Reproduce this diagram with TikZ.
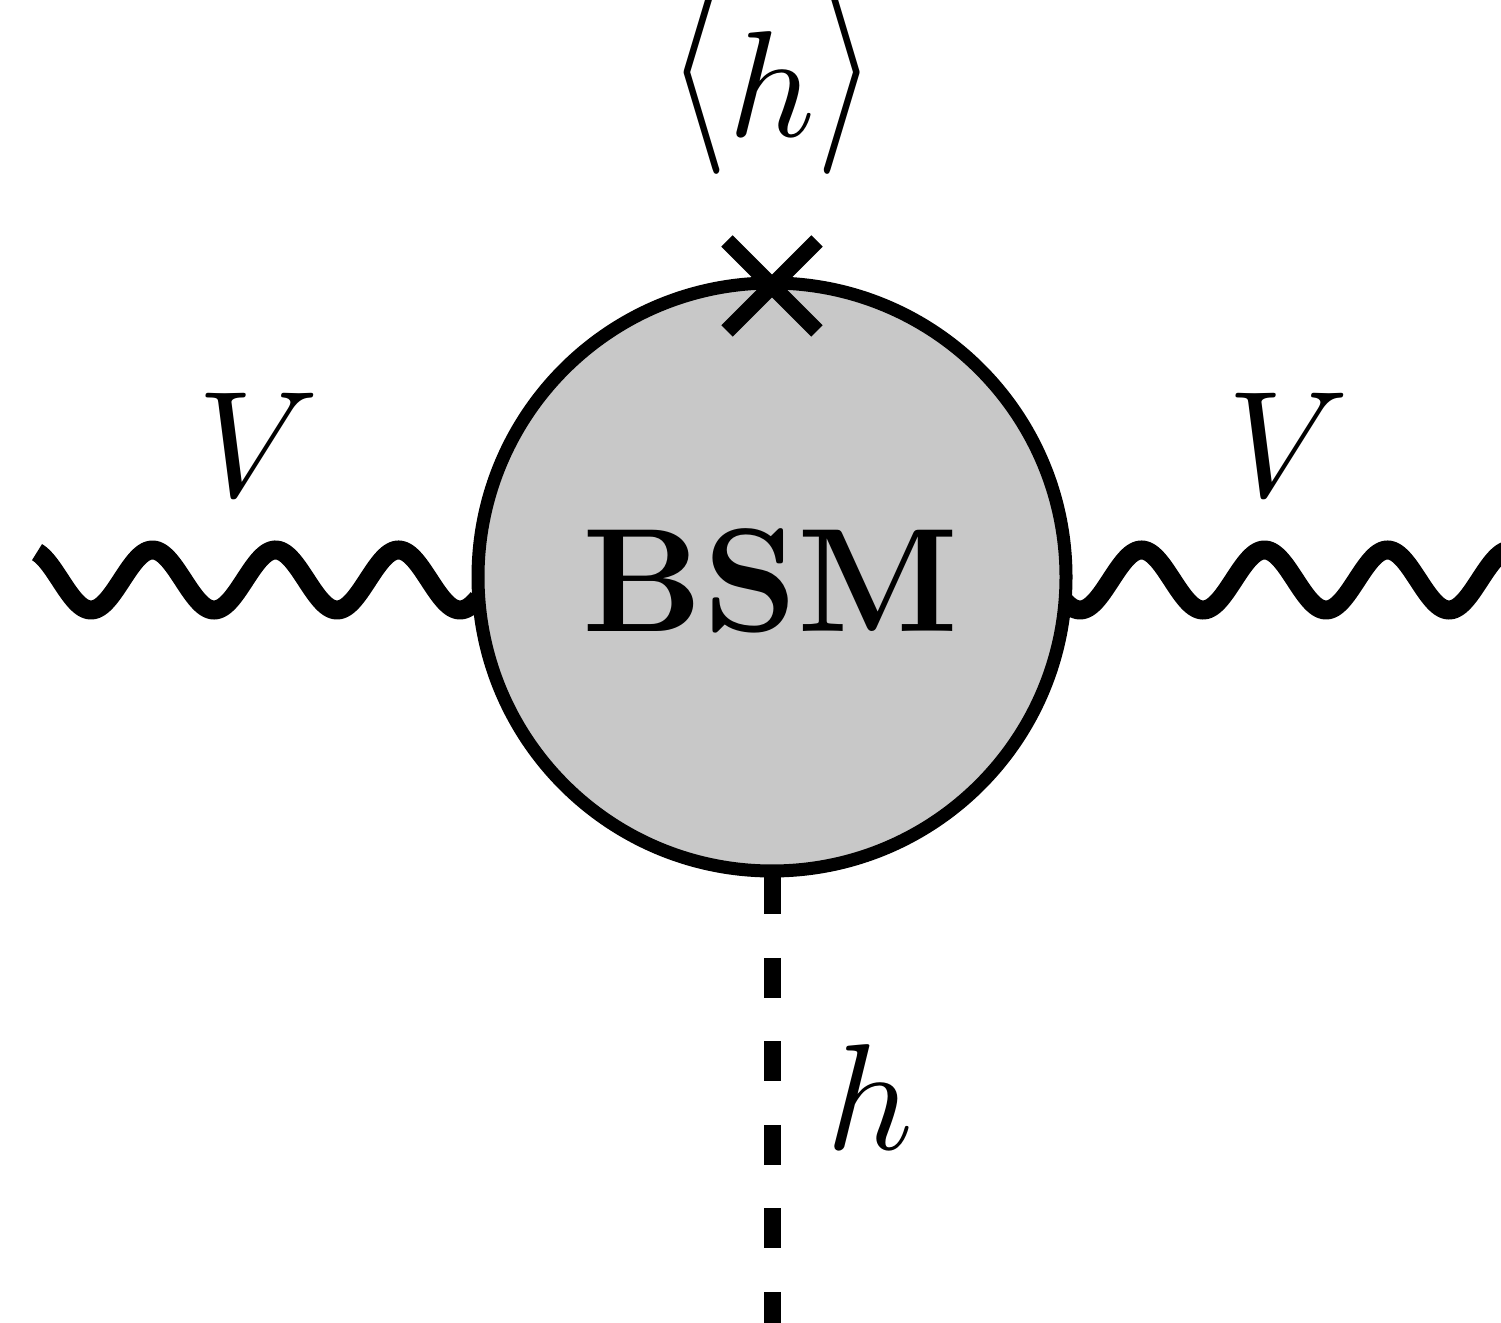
\documentclass[tikz,border=0pt]{standalone}
\usepackage{graphicx}
\definecolor{blobgray}{RGB}{200,200,200}
\newcommand{\tallopen}{\mathopen{\raisebox{0.87pt}{\scalebox{1.06}[1.347]{$\langle$}}}}
\newcommand{\tallclose}{\mathclose{\raisebox{0.87pt}{\scalebox{1.06}[1.347]{$\rangle$}}}}
\begin{document}
\begin{tikzpicture}[
  wave/.style={line width=0.19cm},
  blobstyle/.style={circle, draw, line width=0.13cm, fill=blobgray, minimum size=5.88cm, inner sep=0pt, outer sep=0pt},
  scalar/.style={line width=0.17cm, dash pattern=on 0.4cm off 0.435cm, dash phase=0.8cm},
  crossmark/.style={line width=0.16cm},
  lbl/.style={font=\normalsize, inner sep=0pt, scale=4.3}
]
\useasboundingbox (0,0) rectangle (15.01,13.22);
% waves
\draw[wave] plot[domain=0.37:4.78, samples=240, smooth] (\x,{7.42-0.30*cos(360*(\x-4.60)/1.23)});
\draw[wave] plot[domain=10.64:15.06, samples=240, smooth] (\x,{7.42-0.30*cos(360*(\x-10.80)/1.23)});
% blob
\node[blobstyle] (blob) at (7.72,7.45) {};
\node[lbl, scale=0.977, font=\normalsize\bfseries, anchor=base] (bsm) at (7.71,6.90) {BSM};
% scalar line
\coordinate (hend) at (7.72,-0.3);
\draw[scalar] (blob.south) -- (hend);
% cross (vev insertion)
\coordinate (x) at ([yshift=-0.03cm]blob.north);
\draw[crossmark] (x) ++(-0.45,0.45) -- ++(0.9,-0.9);
\draw[crossmark] (x) ++(0.45,0.45) -- ++(-0.9,-0.9);
% labels
\node[lbl, anchor=base] (vev) at (7.72,11.85) {$\tallopen h\tallclose$};
\node[lbl, anchor=base] (vl) at (2.58,8.25) {$V$};
\node[lbl, anchor=base] (vr) at (12.88,8.25) {$V$};
\node[lbl, anchor=base] (hl) at (8.70,1.72) {$h$};
\end{tikzpicture}
\end{document}
